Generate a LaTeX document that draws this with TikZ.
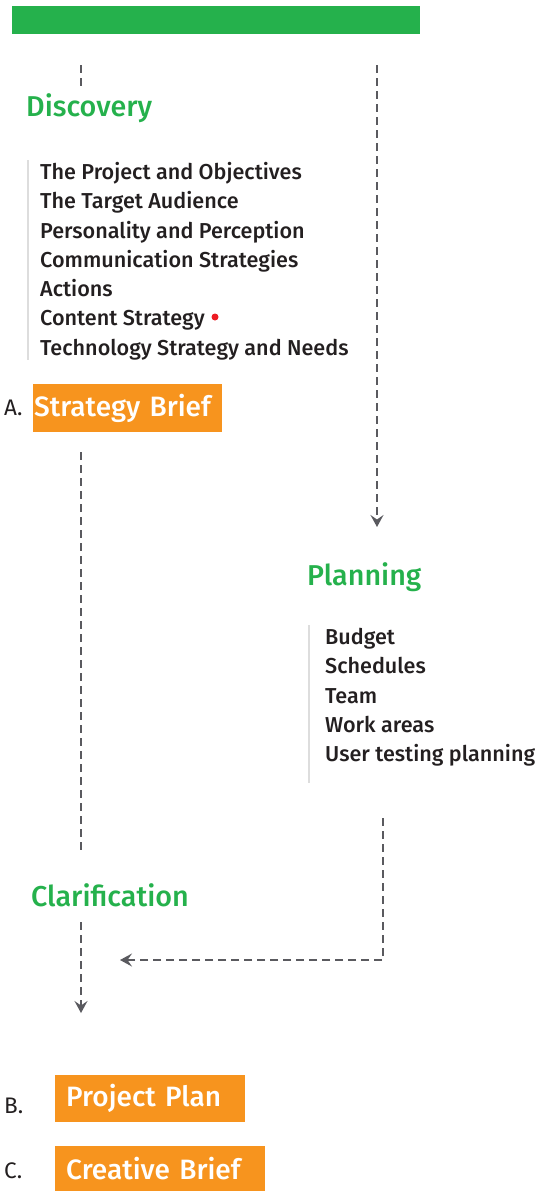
\documentclass[tikz,border=0pt]{standalone}
\usepackage{fontspec}
\setmainfont{Fira Sans}[UprightFont={* Medium}]
\newfontfamily\letterfont{Fira Sans}
\usetikzlibrary{arrows.meta,positioning}
\definecolor{stagegreen}{RGB}{37,177,76}
\definecolor{briefrange}{RGB}{247,148,30}
\definecolor{flowgray}{RGB}{90,90,95}
\definecolor{railgray}{RGB}{221,221,221}
\definecolor{inkdark}{RGB}{35,31,32}
\definecolor{dotred}{RGB}{237,28,36}

\begin{document}
\begin{tikzpicture}[x=1pt,y=-1pt,
    stage/.style={anchor=west, inner sep=0pt, text=stagegreen,
      font={\fontsize{28.7}{32}\selectfont}},
    itemlist/.style={anchor=north west, inner sep=0pt, align=left, text=inkdark,
      font={\fontsize{21.6}{29.3}\selectfont}},
    brief/.style={anchor=north west, fill=briefrange, text=white, align=left,
      inner ysep=0pt, minimum height=#1,
      font={\fontsize{28}{32}\selectfont}},
    letter/.style={anchor=west, inner sep=0pt, text=inkdark,
      font={\letterfont\fontsize{22.5}{24}\selectfont}},
    flow/.style={draw=flowgray, line width=1.6pt, dash pattern=on 8pt off 5pt},
    flowto/.style={flow, -{Stealth[length=12pt,width=13pt,inset=4.5pt]}},
    rail/.style={draw=railgray, line width=2.5pt}
  ]
  \useasboundingbox (0,0) rectangle (542,1191);

  % top bar
  \fill[stagegreen] (12,6) rectangle (420,34);

  %% discovery
  \node[stage] (discovery) at (26,108) {Discovery};
  \node[itemlist] (disc-list) at (40,162) {The Project and Objectives\\
    The Target Audience\\
    Personality and Perception\\
    Communication Strategies\\
    Actions\\
    Content Strategy\\
    Technology Strategy and Needs};
  \draw[rail] ([xshift=-12pt,yshift=2pt]disc-list.north west) -- ([xshift=-12pt]disc-list.south west);
  \fill[dotred] (215,317) circle (3.5);

  \node[letter] (lbl-a) at (4,408) {A.};
  \node[brief=48pt, inner xsep=1pt, text width=187pt] (strategy) at (33,384) {Strategy Brief};

  %% planning
  \node[stage] (planning) at (307,577) {Planning};
  \node[itemlist] (plan-list) at (325,628) {Budget\\
    Schedules\\
    Team\\
    Work areas\\
    User testing planning};
  \draw[rail] ([xshift=-16pt,yshift=3pt]plan-list.north west) -- ([xshift=-16pt,yshift=-16pt]plan-list.south west);

  %% clarification
  \node[stage] (clarification) at (31,895) {Clarification};

  %% deliverables
  \node[letter] (lbl-b) at (4,1106) {B.};
  \node[brief=47pt, inner xsep=11pt, text width=168pt] (project) at (55,1075) {Project Plan};
  \node[letter] (lbl-c) at (4,1171) {C.};
  \node[brief=45pt, inner xsep=11pt, text width=188pt] (creative) at (55,1146) {Creative Brief};

  %% connectors
  \coordinate (l-top) at (81,65);
  \coordinate (l-disc) at (81,88);
  \coordinate (r-top) at (377,65);
  \coordinate (r-plan) at (377,527);
  \coordinate (l-brief) at (81,452);
  \coordinate (l-clar) at (81,852);
  \coordinate (l-out) at (81,922);
  \coordinate (l-end) at (81,1013);
  \coordinate (r-list) at (383,818);
  \coordinate (r-turn) at (383,960);
  \coordinate (l-join) at (120,960);

  \draw[flow] (l-top) -- (l-disc);
  \draw[flowto] (r-top) -- (r-plan);
  \draw[flow] (l-brief) -- (l-clar);
  \draw[flowto] (l-out) -- (l-end);
  \draw[flowto] (r-list) -- (r-turn) -- (l-join);
\end{tikzpicture}
\end{document}
